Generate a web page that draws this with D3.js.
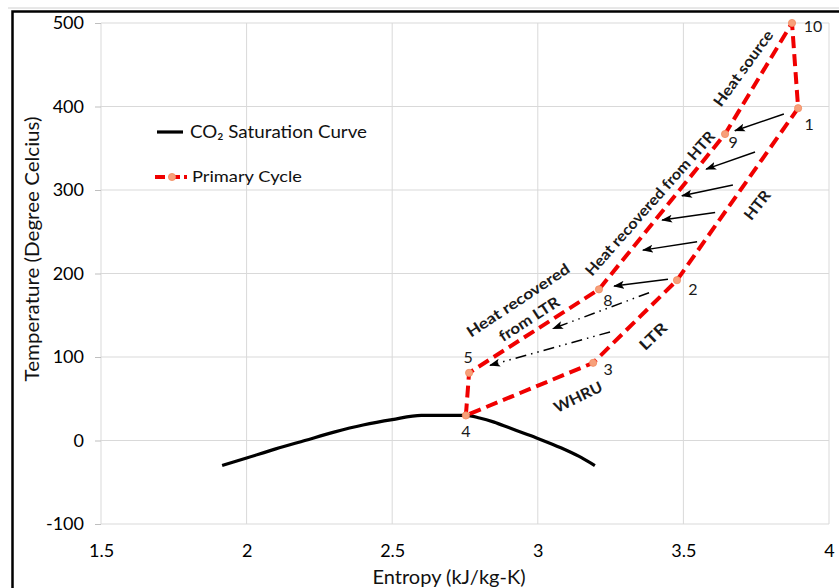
<!DOCTYPE html>
<html><head><meta charset="utf-8">
<script src="https://cdn.jsdelivr.net/npm/d3@7"></script>
<style>
html,body{margin:0;padding:0;background:#fff;}
svg{display:block;}
text{font-family:Lato,"Open Sans",sans-serif;}
</style></head>
<body>
<svg id="chart" width="839" height="588"></svg>
<script>
// ---------- data ----------
const entropyTicks = [1.5, 2, 2.5, 3, 3.5, 4];
const tempTicks = [-100, 0, 100, 200, 300, 400, 500];

// CO2 saturation curve
const satS = [1.916, 2.0, 2.1, 2.2, 2.3, 2.4, 2.5, 2.6, 2.753, 2.8, 2.85, 2.9, 2.95, 3.0, 3.05, 3.1, 3.15, 3.196];
const satT = [-30, -21, -10, 0, 10, 18.5, 25, 30, 30, 27, 22, 15.5, 9, 2.5, -4.5, -12, -20.5, -30];

// Primary cycle (state points in order)
const cycleLabels = ["4", "5", "8", "9", "10", "1", "2", "3", "4"];
const cycleS = [2.753, 2.764, 3.210, 3.643, 3.873, 3.894, 3.478, 3.190, 2.753];
const cycleT = [30, 81, 181, 367, 500, 398, 192, 93, 30];

// heat-transfer arrows (HTR: solid, LTR: dash-dot)
const solidFromS = [3.845, 3.746, 3.670, 3.609, 3.547, 3.447];
const solidFromT = [391, 345.5, 306, 273, 238, 193];
const solidToS   = [3.677, 3.578, 3.495, 3.427, 3.361, 3.262];
const solidToT   = [371, 325, 293, 264, 228, 185];
const dashFromS = [3.382, 3.248];
const dashFromT = [177, 130];
const dashToS   = [3.052, 2.836];
const dashToT   = [134, 90];

// process annotations
const noteText = ["Heat source", "Heat recovered from HTR", "HTR", "Heat recovered", "from LTR", "LTR", "WHRU"];
const noteS = [3.705, 3.385, 3.753, 2.932, 2.970, 3.396, 3.138];
const noteT = [446, 284, 282, 168, 145.5, 125, 52];

// ---------- styles / layout ----------
const noteAngle = [-54, -48.5, -52, -33.5, -33, -44, -26];
const noteLen = [90, 187, 33, 120, 69, 32, 52];
const labelOffset = {"10":[21,3], "1":[11,16], "9":[8,8], "2":[16,9], "8":[9,11], "5":[-1,-16], "3":[15,6], "4":[0,16]};

const svg = d3.select("#chart");
const x = d3.scaleLinear().domain([1.5, 4]).range([101, 829]);
const y = d3.scaleLinear().domain([-100, 500]).range([524, 23]);

// outer frame
svg.append("line").attr("x1", 8).attr("x2", 839).attr("y1", 8).attr("y2", 8).attr("stroke", "#d0d0d0").attr("stroke-width", 1);
svg.append("rect").attr("x", 12.5).attr("y", 11.5).attr("width", 840).attr("height", 600)
  .attr("fill", "none").attr("stroke", "#000").attr("stroke-width", 2.5);

// gridlines
const grid = svg.append("g");
grid.selectAll(".gh").data(tempTicks).join("line")
  .attr("x1", x(1.5)).attr("x2", x(4)).attr("y1", d => y(d)).attr("y2", d => y(d))
  .attr("stroke", "#d9d9d9").attr("stroke-width", 1);
grid.selectAll(".gv").data(entropyTicks).join("line")
  .attr("x1", d => x(d)).attr("x2", d => x(d)).attr("y1", y(-100)).attr("y2", y(500))
  .attr("stroke", "#d9d9d9").attr("stroke-width", 1);

// axes
const yAxis = svg.append("g").attr("transform", `translate(${x(1.5)},0)`)
  .call(d3.axisLeft(y).tickValues(tempTicks).tickSize(6).tickSizeOuter(0).tickPadding(11).tickFormat(d => String(d)));
yAxis.select(".domain").remove();
yAxis.selectAll("line").attr("stroke", "#bfbfbf");
yAxis.selectAll("text").attr("font-family", "Lato").attr("font-size", 18).attr("fill", "#000");

const xAxis = svg.append("g").attr("transform", `translate(0,${y(-100)})`)
  .call(d3.axisBottom(x).tickValues(entropyTicks).tickSize(0).tickSizeOuter(0).tickPadding(20).tickFormat(d => String(d)));
xAxis.select(".domain").remove();
xAxis.selectAll("text").attr("font-family", "Lato").attr("font-size", 18).attr("fill", "#000");

// axis titles
svg.append("text").attr("x", 449).attr("y", 584).attr("text-anchor", "middle")
  .attr("font-size", 19).attr("fill", "#111").attr("textLength", 153).attr("lengthAdjust", "spacingAndGlyphs")
  .text("Entropy (kJ/kg-K)");
svg.append("text").attr("transform", "translate(39,249) rotate(-90)").attr("text-anchor", "middle")
  .attr("font-size", 19).attr("fill", "#111").attr("textLength", 265).attr("lengthAdjust", "spacingAndGlyphs")
  .text("Temperature (Degree Celcius)");

// arrow markers
const defs = svg.append("defs");
defs.append("marker").attr("id", "ah").attr("markerUnits", "userSpaceOnUse")
  .attr("markerWidth", 12).attr("markerHeight", 10).attr("refX", 10).attr("refY", 4.5).attr("orient", "auto")
  .append("path").attr("d", "M0,0.5 L11,4.5 L0,8.5 L2.5,4.5 z").attr("fill", "#000");

// saturation curve
const satData = satS.map((s, i) => [s, satT[i]]);
svg.append("path").datum(satData)
  .attr("d", d3.line().x(d => x(d[0])).y(d => y(d[1])).curve(d3.curveMonotoneX))
  .attr("fill", "none").attr("stroke", "#000").attr("stroke-width", 3.2);

// heat arrows
const solid = solidFromS.map((s, i) => ({x1: s, y1: solidFromT[i], x2: solidToS[i], y2: solidToT[i]}));
svg.append("g").selectAll("line").data(solid).join("line")
  .attr("x1", d => x(d.x1)).attr("y1", d => y(d.y1)).attr("x2", d => x(d.x2)).attr("y2", d => y(d.y2))
  .attr("stroke", "#000").attr("stroke-width", 1.5).attr("marker-end", "url(#ah)");
const dashed = dashFromS.map((s, i) => ({x1: s, y1: dashFromT[i], x2: dashToS[i], y2: dashToT[i]}));
svg.append("g").selectAll("line").data(dashed).join("line")
  .attr("x1", d => x(d.x1)).attr("y1", d => y(d.y1)).attr("x2", d => x(d.x2)).attr("y2", d => y(d.y2))
  .attr("stroke", "#000").attr("stroke-width", 1.5).attr("stroke-dasharray", "11,5,1.5,5,1.5,5")
  .attr("marker-end", "url(#ah)");

// primary cycle
const cyc = cycleS.map((s, i) => ({s, t: cycleT[i], label: cycleLabels[i]}));
svg.append("path").datum(cyc)
  .attr("d", d3.line().x(d => x(d.s)).y(d => y(d.t)))
  .attr("fill", "none").attr("stroke", "#f00000").attr("stroke-width", 4)
  .attr("stroke-dasharray", "12,6").attr("stroke-linejoin", "round");
const pts = cyc.slice(0, cyc.length - 1);
svg.append("g").selectAll("circle").data(pts).join("circle")
  .attr("cx", d => x(d.s)).attr("cy", d => y(d.t)).attr("r", 3.6)
  .attr("fill", "#f7a07a").attr("stroke", "#f28b60").attr("stroke-width", 0.8);
svg.append("g").selectAll("text").data(pts).join("text")
  .attr("x", d => x(d.s) + labelOffset[d.label][0])
  .attr("y", d => y(d.t) + labelOffset[d.label][1] + 6)
  .attr("text-anchor", "middle").attr("font-size", 16).attr("fill", "#1a1a1a")
  .text(d => d.label);

// process notes
const notes = noteText.map((t, i) => ({t, s: noteS[i], v: noteT[i], a: noteAngle[i], l: noteLen[i]}));
svg.append("g").selectAll("text").data(notes).join("text")
  .attr("transform", d => `translate(${x(d.s)},${y(d.v)}) rotate(${d.a})`)
  .attr("text-anchor", "middle").attr("dy", "0.36em")
  .attr("font-size", 15).attr("font-weight", "bold").attr("fill", "#1a1a1a")
  .attr("textLength", d => d.l).attr("lengthAdjust", "spacingAndGlyphs")
  .text(d => d.t);

// legend
const lg = svg.append("g");
lg.append("line").attr("x1", 157).attr("x2", 183).attr("y1", 132).attr("y2", 132)
  .attr("stroke", "#000").attr("stroke-width", 3.2);
lg.append("text").attr("x", 190).attr("y", 138).attr("font-size", 18).attr("fill", "#111")
  .attr("textLength", 177).attr("lengthAdjust", "spacingAndGlyphs").text("CO₂ Saturation Curve");
lg.append("line").attr("x1", 155).attr("x2", 190).attr("y1", 177).attr("y2", 177)
  .attr("stroke", "#f00000").attr("stroke-width", 3.8).attr("stroke-dasharray", "10,7,8,4,3,20");
lg.append("circle").attr("cx", 172).attr("cy", 177).attr("r", 3.6)
  .attr("fill", "#f7a07a").attr("stroke", "#f28b60").attr("stroke-width", 0.8);
lg.append("text").attr("x", 192).attr("y", 182).attr("font-size", 16).attr("fill", "#111")
  .attr("textLength", 110).attr("lengthAdjust", "spacingAndGlyphs").text("Primary Cycle");
</script>
</body></html>
